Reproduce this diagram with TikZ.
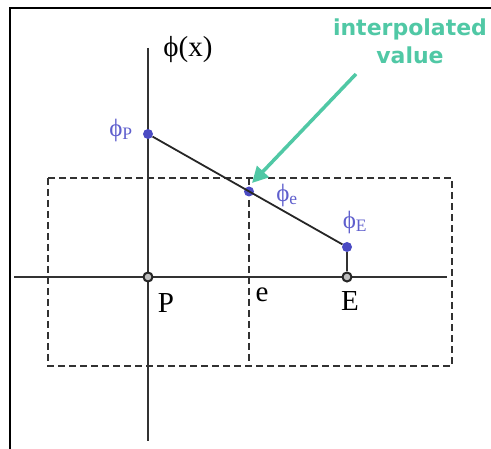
\documentclass[tikz,border=0pt]{standalone}
\usepackage{fontspec}
\setmainfont{Liberation Serif}
\newfontfamily\labelsans{DejaVu Sans}
\usetikzlibrary{arrows.meta}
\definecolor{ptblue}{RGB}{75,75,195}
\definecolor{lblblue}{RGB}{95,95,205}
\definecolor{teal2}{RGB}{80,200,165}
\definecolor{axisgray}{RGB}{50,50,50}
\tikzset{
  axis/.style={draw=axisgray, line width=2pt},
  dashbox/.style={draw=axisgray, line width=1.8pt, dash pattern=on 7pt off 4pt},
  dot/.style={circle, fill=ptblue, inner sep=0pt, minimum size=10pt},
  odot/.style={circle, draw=black!85, fill=gray!50, line width=2pt, inner sep=0pt, minimum size=9pt},
  lbl/.style={font=\fontsize{29}{31}\selectfont, inner sep=0pt},
  blbl/.style={font=\fontsize{25}{27}\selectfont, inner sep=0pt, text=lblblue},
  note/.style={font=\labelsans\bfseries\fontsize{22}{28}\selectfont, text=teal2, align=center, inner sep=0pt},
}
\begin{document}
\begin{tikzpicture}[x=1pt,y=-1pt]
\useasboundingbox (0,0) rectangle (491,449);
% frame (top and left only)
\draw[black, line width=2pt] (10,449) -- (10,8) -- (491,8);
% dashed boxes
\draw[dashbox] (48,178) rectangle (452,366);
\coordinate (et) at (249,178);
\coordinate (eb) at (249,366);
\draw[dashbox] (et) -- (eb);
% axes
\coordinate (vt) at (148,48);
\coordinate (vb) at (148,441);
\coordinate (hl) at (14,277);
\coordinate (hr) at (447,277);
\draw[axis] (vt) -- (vb);
\draw[axis] (hl) -- (hr);
% points
\node[odot] (P) at (148,277) {};
\node[odot] (E) at (347,277) {};
\node[dot] (pP) at (148,134) {};
\node[dot] (pE) at (347,247) {};
\node[dot] (pe) at (249,191.5) {};
\draw[line width=1.8pt, black!85] (pP) -- (pE);
\draw[axis] (E) -- (pE);
% labels
\node[lbl] (phix) at (188,50) {ϕ(x)};
\node[blbl] (lP) at (121,130) {ϕ\textsubscript{P}};
\node[blbl] (le) at (287,195) {ϕ\textsubscript{e}};
\node[blbl] (lE) at (355,222) {ϕ\textsubscript{E}};
\node[lbl] (tP) at (166,303) {P};
\node[lbl] (te) at (262,295) {e};
\node[lbl] (tE) at (350,301) {E};
% note
\node[note] (note) at (410,41) {interpolated\\value};
\coordinate (as) at (356,74);
\coordinate (ae) at (252,183);
\draw[teal2, line width=3.5pt, -{Triangle[length=16pt,width=16pt]}] (as) -- (ae);
\end{tikzpicture}
\end{document}
